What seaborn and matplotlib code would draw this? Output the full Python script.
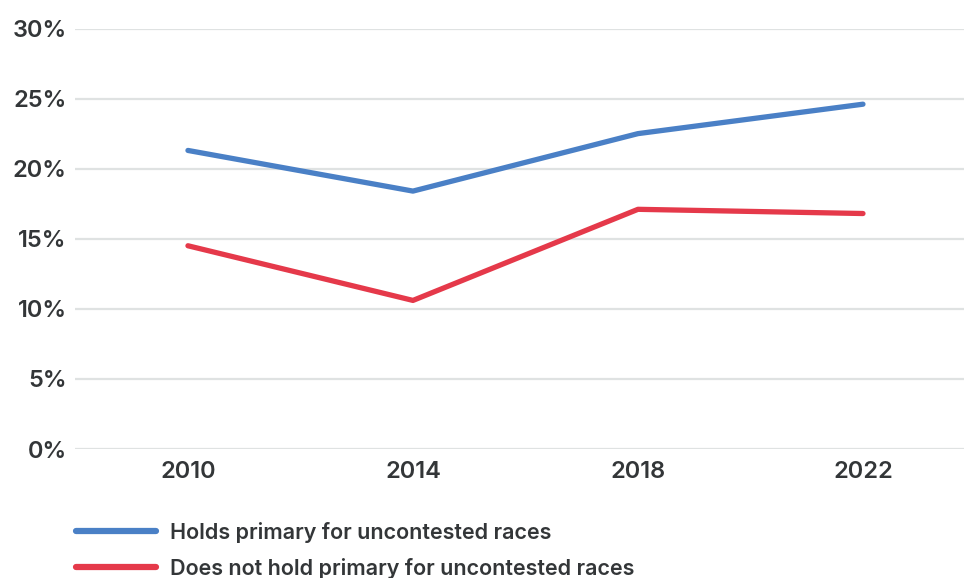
import matplotlib
matplotlib.use("Agg")
import matplotlib.pyplot as plt
import pandas as pd
import seaborn as sns

years = ["2010", "2014", "2018", "2022"]
holds_primary = [21.3, 18.4, 22.5, 24.6]
no_primary = [14.5, 10.6, 17.1, 16.8]
series_names = ["Holds primary for uncontested races",
                "Does not hold primary for uncontested races"]
y_ticks = [0, 5, 10, 15, 20, 25, 30]

df = pd.DataFrame({
    "year": years * 2,
    "share": holds_primary + no_primary,
    "series": [series_names[0]] * len(years) + [series_names[1]] * len(years),
})

sns.set_theme(style="white")
plt.rcParams["font.family"] = ["Inter", "DejaVu Sans"]
text_color = "#333638"

fig = plt.figure(figsize=(9.64, 5.78), dpi=100)
ax = fig.add_axes([75 / 964, 1 - 449 / 578, 889 / 964, 420.5 / 578])

palette = {series_names[0]: "#4a80c6", series_names[1]: "#e5394a"}
sns.lineplot(data=df, x="year", y="share", hue="series", palette=palette,
             linewidth=3.8, sort=False, ax=ax, legend=True,
             solid_capstyle="round", solid_joinstyle="round")

ax.set_xlim(-0.502, 3.449)
ax.set_ylim(0, 30)
ax.set_yticks(y_ticks)
ax.set_yticklabels([f"{t}%" for t in y_ticks])
ax.grid(axis="y", color="#dfe2e2", linewidth=1.6)
ax.grid(axis="x", visible=False)
ax.set_axisbelow(True)
for s in ax.spines.values():
    s.set_visible(False)
ax.tick_params(axis="both", length=0, colors=text_color, labelsize=17)
ax.tick_params(axis="y", pad=6)
ax.tick_params(axis="x", pad=9)
for lbl in ax.get_xticklabels() + ax.get_yticklabels():
    lbl.set_fontweight("semibold")
ax.set_xlabel("")
ax.set_ylabel("")

handles, labels = ax.get_legend_handles_labels()
for h in handles:
    h.set_linewidth(4.5)
    h.set_solid_capstyle("round")
leg = ax.legend(handles, labels, loc="upper left",
                bbox_to_anchor=(76 / 964, 1 - 522 / 578),
                bbox_transform=fig.transFigure, frameon=False,
                fontsize=15.5, handlelength=3.7, handletextpad=0.65,
                labelspacing=0.68, borderaxespad=0, borderpad=0)
for t in leg.get_texts():
    t.set_color(text_color)
    t.set_fontweight("semibold")

fig.savefig("out.png", dpi=100)
